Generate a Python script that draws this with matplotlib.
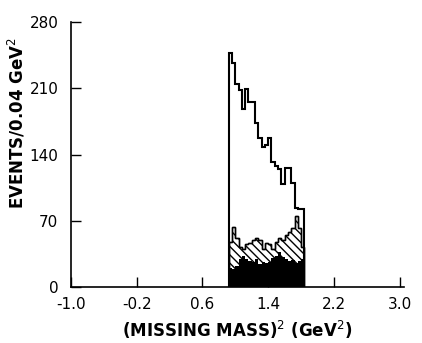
import numpy as np
import matplotlib
matplotlib.use("Agg")
import matplotlib.pyplot as plt

# bins of 0.04 GeV^2 starting at 0.92
bin_lo = 0.92
bin_w = 0.04
total = [247, 237, 214, 208, 188, 209, 195, 195, 173, 157, 148, 150,
         157, 132, 128, 125, 109, 126, 126, 110, 83, 82, 82]
hatched = [48, 63, 52, 42, 40, 45, 47, 50, 52, 50, 40, 47,
           45, 40, 48, 52, 50, 55, 58, 62, 75, 62, 42]
black = [20, 19, 22, 30, 33, 30, 28, 26, 30, 24, 27, 25,
         26, 31, 33, 37, 32, 30, 28, 29, 25, 28, 30]

xticks = [-1.0, -0.2, 0.6, 1.4, 2.2, 3.0]
xtick_labels = ["-1.0", "-0.2", "0.6", "1.4", "2.2", "3.0"]
yticks = [0, 70, 140, 210, 280]

plt.rcParams["font.family"] = ["DejaVu Sans"]
plt.rcParams["hatch.linewidth"] = 1.0

edges = bin_lo + bin_w * np.arange(len(total) + 1)

fig = plt.figure(figsize=(4.22, 3.43), dpi=100)
ax = fig.add_axes([0.168, 0.163, 0.789, 0.773])

ax.stairs(hatched, edges, fill=True, facecolor="white", edgecolor="black",
          hatch="\\\\\\\\", linewidth=1.0)
ax.stairs(hatched, edges, fill=False, color="black", linewidth=1.0)
ax.stairs(black, edges, fill=True, color="black", linewidth=0)
ax.stairs(total, edges, fill=False, color="black", linewidth=1.5)

ax.set_xlim(-1.0, 3.05)
ax.set_ylim(0, 280)
ax.spines["top"].set_visible(False)
ax.spines["right"].set_visible(False)
ax.spines["left"].set_linewidth(1.2)
ax.spines["bottom"].set_linewidth(1.2)

ax.set_xticks(xticks)
ax.set_xticklabels(xtick_labels)
ax.set_yticks(yticks)
ax.tick_params(direction="in", length=7, width=1.0, labelsize=11)
ax.tick_params(axis="x", pad=7)
ax.tick_params(axis="y", pad=9)

ax.set_xlabel("(MISSING MASS)$^2$ (GeV$^2$)", fontsize=12, fontweight="bold",
              labelpad=5)
ax.set_ylabel("EVENTS/0.04 GeV$^2$", fontsize=12, fontweight="bold")
ax.yaxis.set_label_coords(-0.13, 0.62)

fig.savefig("out.png", dpi=100)
